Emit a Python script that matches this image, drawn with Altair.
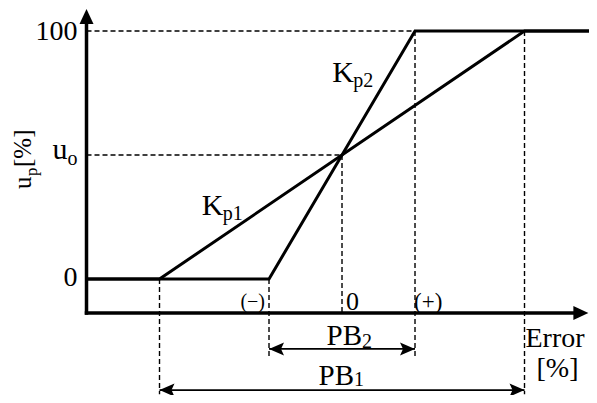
import altair as alt
import pandas as pd

# ---- data (error in %, controller output u_p in %) ----
kp1_error = [-70, -50, 50, 68]      # curve with proportional band PB1
kp1_u = [0, 0, 100, 100]
kp2_error = [-70, -20, 20, 68]      # curve with proportional band PB2
kp2_u = [0, 0, 100, 100]

u_levels = [0, 50, 100]             # 0, u_o, 100
pb1_ends = [-50, 50]
pb2_ends = [-20, 20]

axis_error = -70                    # position of the u_p axis
axis_u = -13.7                      # position of the error axis
error_tip = 67.5
u_tip = 108.9

# dashed guide segments
guide_x1 = [-70, -70, -50, -20, 0, 20, 50]
guide_y1 = [100, 50, 0, 0, 50, 100, 100]
guide_x2 = [20, 0, -50, -20, 0, 20, 50]
guide_y2 = [100, 50, -46.5, -31.5, -13.7, -31.5, -46.5]

pb2_level = -28.2
pb1_level = -44.8

X_DOMAIN = [-91.51, 67.67]
Y_DOMAIN = [-46.77, 109.27]
FONT = "Liberation Serif"

xs = alt.Scale(domain=X_DOMAIN, nice=False, zero=False)
ys = alt.Scale(domain=Y_DOMAIN, nice=False, zero=False)


def X(f="x"):
    return alt.X(f"{f}:Q", scale=xs, axis=None)


def Y(f="y"):
    return alt.Y(f"{f}:Q", scale=ys, axis=None)


curves = pd.DataFrame({
    "x": kp1_error + kp2_error,
    "y": kp1_u + kp2_u,
    "curve": ["Kp1"] * 4 + ["Kp2"] * 4,
    "o": list(range(4)) * 2,
})
curve_layer = alt.Chart(curves).mark_line(color="black", strokeWidth=3, strokeJoin="miter").encode(
    x=X(), y=Y(), detail="curve:N", order="o:Q")

guides = pd.DataFrame({"x": guide_x1, "y": guide_y1, "x2": guide_x2, "y2": guide_y2})
guide_layer = alt.Chart(guides).mark_rule(color="black", strokeWidth=1.4, strokeDash=[5, 3]).encode(
    x=X(), y=Y(), x2="x2:Q", y2="y2:Q")

axes = pd.DataFrame({
    "x": [axis_error, axis_error],
    "y": [axis_u, axis_u],
    "x2": [error_tip - 3, axis_error],
    "y2": [axis_u, u_tip - 3],
})
axis_layer = alt.Chart(axes).mark_rule(color="black", strokeWidth=3.5, strokeCap="square").encode(
    x=X(), y=Y(), x2="x2:Q", y2="y2:Q")

dims = pd.DataFrame({
    "x": [pb2_ends[0], pb1_ends[0]],
    "x2": [pb2_ends[1], pb1_ends[1]],
    "y": [pb2_level, pb1_level],
})
dim_layer = alt.Chart(dims).mark_rule(color="black", strokeWidth=1.8).encode(
    x=X(), y=Y(), x2="x2:Q")

RIGHT = "M0,0L-15,-6.5L-12,0L-15,6.5Z"
LEFT = "M0,0L15,-6.5L12,0L15,6.5Z"
RIGHT_AX = "M0,0L-15,-7L-15,7Z"
UP_AX = "M0,0L-7,15L7,15Z"


def heads(xv, yv, shape):
    df = pd.DataFrame({"x": xv, "y": yv})
    return alt.Chart(df).mark_point(shape=shape, size=4, filled=True, color="black",
                                    opacity=1, strokeWidth=0).encode(x=X(), y=Y())


head_layers = [
    heads([pb2_ends[1], pb1_ends[1]], [pb2_level, pb1_level], RIGHT),
    heads([pb2_ends[0], pb1_ends[0]], [pb2_level, pb1_level], LEFT),
    heads([error_tip], [axis_u], RIGHT_AX),
    heads([axis_error], [u_tip], UP_AX),
]


def label(text, x, y, size=28, align="left", baseline="alphabetic", dx=0, dy=0, angle=0):
    df = pd.DataFrame({"x": [x], "y": [y], "t": [text]})
    return alt.Chart(df).mark_text(font=FONT, fontSize=size, align=align, baseline=baseline,
                                   dx=dx, dy=dy, angle=angle, color="black").encode(
        x=X(), y=Y(), text="t:N")


labels = [
    label("100", axis_error, u_levels[2], align="right", baseline="middle", dx=-9, dy=1),
    label("u", axis_error, u_levels[1], size=30, align="right", dx=-19, dy=4),
    label("o", axis_error, u_levels[1], size=20, align="left", dx=-19, dy=10),
    label("0", axis_error, u_levels[0], align="right", baseline="middle", dx=-9, dy=-1),
    label("K", -38.4, 25.8, size=30),
    label("p1", -38.4, 25.8, size=20, dx=21, dy=5),
    label("K", -2.7, 79.4, size=30),
    label("p2", -2.7, 79.4, size=20, dx=21, dy=5),
    label("(\u2212)", pb2_ends[0], axis_u, size=20, align="right", dx=-4, dy=-5),
    label("0", 0, axis_u, size=26, dx=4, dy=-3),
    label("(+)", pb2_ends[1], axis_u, size=23, dx=-1, dy=-4),
    label("PB", 0, pb2_level, size=29, align="right", dx=20, dy=-4),
    label("2", 0, pb2_level, size=20, dx=20, dy=-1),
    label("PB", 0, pb1_level, size=29, align="right", dx=12, dy=-5),
    label("1", 0, pb1_level, size=20, dx=12, dy=-4),
    label("Error", pb1_ends[1], axis_u, size=28, dx=1, dy=34),
    label("[%]", pb1_ends[1], axis_u, size=28, align="center", dx=33, dy=64),
    label("u", -85.3, 36.3, size=25, angle=270),
    label("p", -85.3, 36.3, size=17, angle=270, dx=13, dy=6),
    label("[%]", -85.3, 36.3, size=25, angle=270, dx=22),
]

chart = alt.layer(
    guide_layer, dim_layer, curve_layer, axis_layer, *head_layers, *labels
).properties(
    width=581, height=387, padding=0, autosize=alt.AutoSizeParams(type="none"),
    background="white",
).configure_view(stroke=None)

chart.save("out.html", embed_options={"renderer": "svg", "actions": False})
